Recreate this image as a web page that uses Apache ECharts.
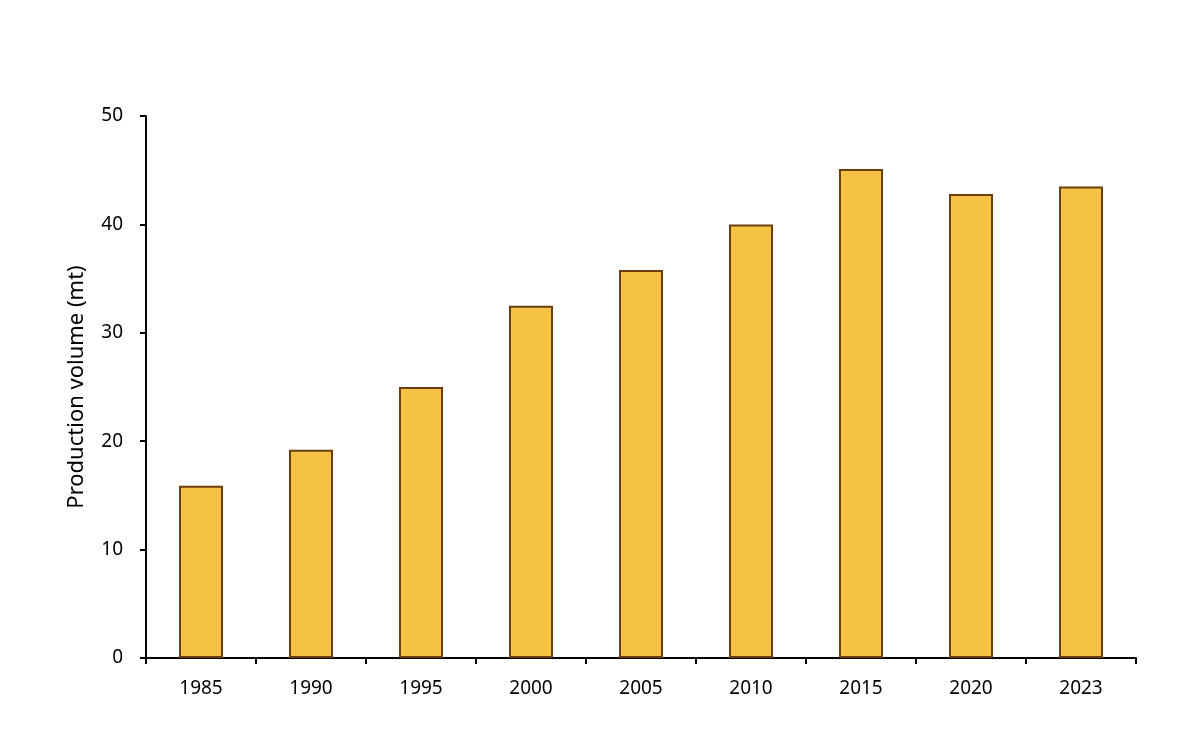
<!DOCTYPE html>
<html><head><meta charset="utf-8">
<script src="https://cdn.jsdelivr.net/npm/echarts@6/dist/echarts.min.js"></script>
<style>html,body{margin:0;padding:0;background:#fff}#c{width:1200px;height:740px}</style>
</head><body><div id="c"></div>
<script>
const categories = ['1985','1990','1995','2000','2005','2010','2015','2020','2023'];
const production = [15.9, 19.2, 25.0, 32.5, 35.8, 40.0, 45.1, 42.8, 43.5];
const yTicks = [0, 10, 20, 30, 40, 50];

const chart = echarts.init(document.getElementById('c'));
chart.setOption({
  animation: false,
  backgroundColor: '#fff',
  grid: { left: 146, right: 64, top: 116, bottom: 82, containLabel: false },
  xAxis: {
    type: 'category',
    data: categories,
    boundaryGap: true,
    axisLine: { lineStyle: { color: '#000', width: 2 } },
    axisTick: { show: true, alignWithLabel: false, length: 6, inside: false, lineStyle: { color: '#000', width: 2 } },
    axisLabel: { color: '#000', fontSize: 19, fontFamily: 'Noto Sans', margin: 21 }
  },
  yAxis: {
    type: 'value',
    min: yTicks[0], max: yTicks[yTicks.length - 1], interval: 10,
    name: 'Production volume (mt)',
    nameLocation: 'middle',
    nameGap: 58,
    nameTextStyle: { color: '#000', fontSize: 22, fontFamily: 'Noto Sans' },
    axisLine: { show: true, lineStyle: { color: '#000', width: 2 } },
    axisTick: { show: true, length: 6, lineStyle: { color: '#000', width: 2 } },
    splitLine: { show: false },
    axisLabel: { color: '#000', fontSize: 19, fontFamily: 'Noto Sans', margin: 23 }
  },
  series: [{
    type: 'bar',
    data: production,
    barWidth: '40%',
    itemStyle: { color: '#F6C244', borderColor: '#6B3E0E', borderWidth: 2 }
  }]
});
</script></body></html>
